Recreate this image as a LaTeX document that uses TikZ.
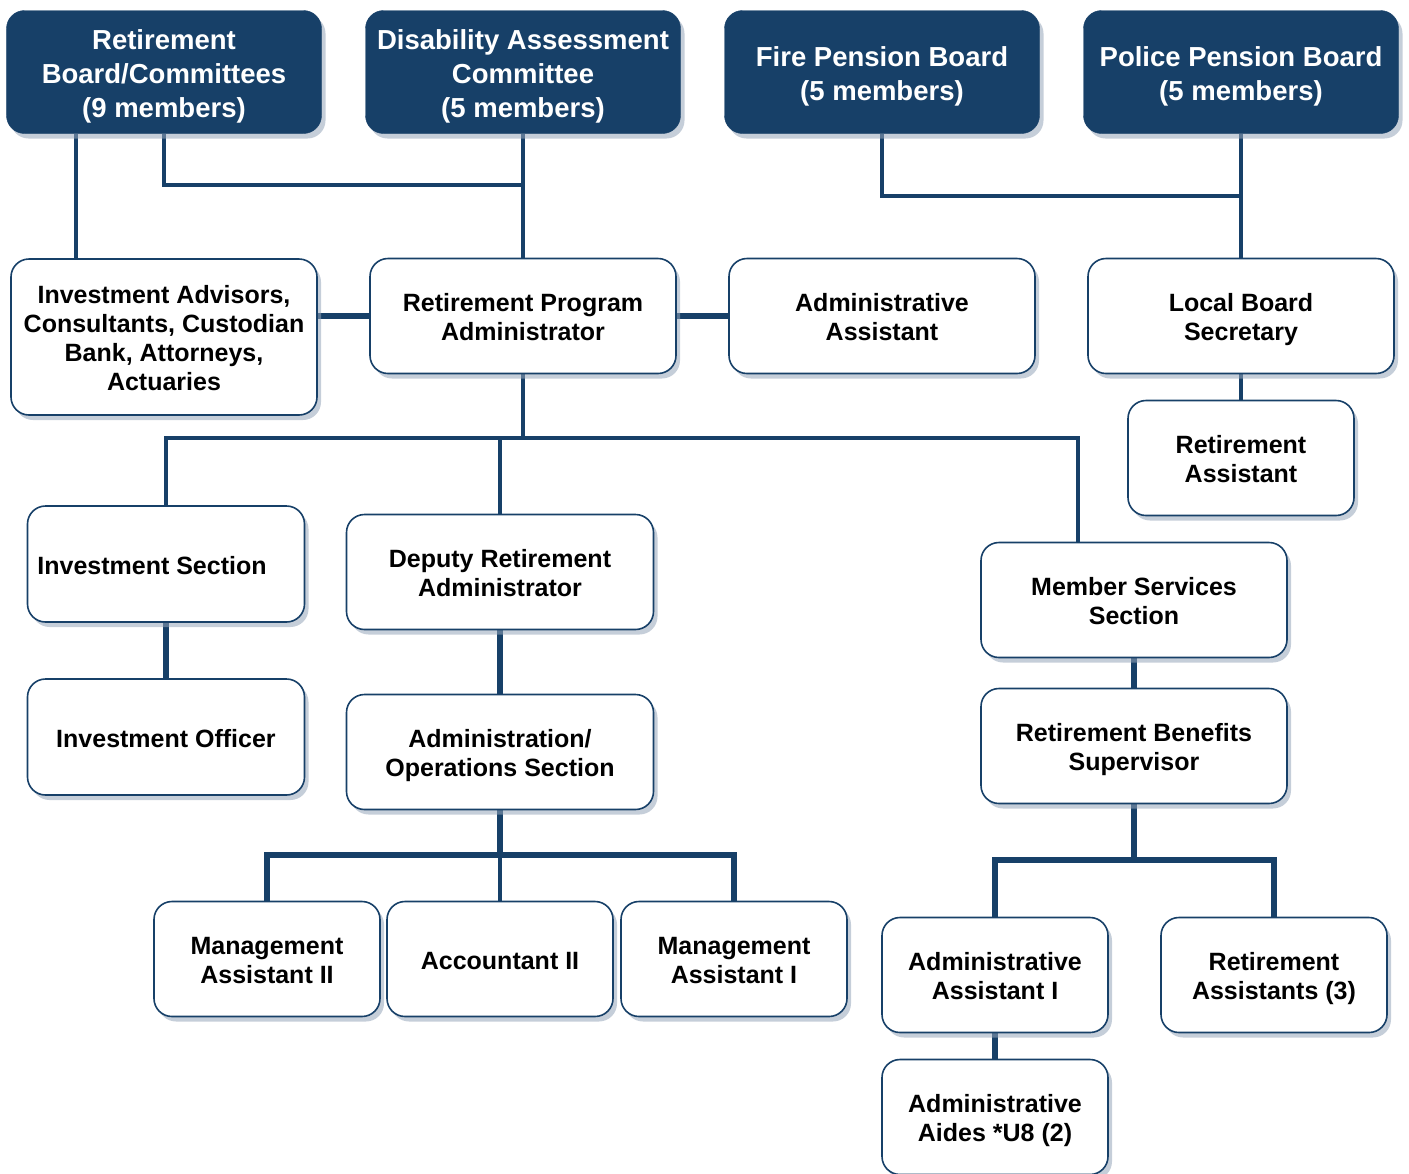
\documentclass[tikz,border=0pt]{standalone}
\usepackage{fontspec}
\setmainfont{Liberation Sans}
\usetikzlibrary{shadows,backgrounds}
\definecolor{navy}{RGB}{23,64,104}
\definecolor{shade}{RGB}{150,165,185}
\tikzset{
  base/.style={rounded corners=18bp, anchor=center, align=center, inner sep=0pt,
    font=\bfseries\fontsize{25bp}{29bp}\selectfont,
    execute at end node={\rule[-5.5bp]{0pt}{0pt}},
    drop shadow={shadow xshift=4bp, shadow yshift=-5bp, fill=shade, opacity=0.55}},
  head/.style={base, fill=navy, draw=navy, text=white, minimum width=315bp, minimum height=123bp,
    font=\bfseries\fontsize{27.5bp}{34bp}\selectfont,
    execute at end node={\rule[-6bp]{0pt}{0pt}}},
  box/.style={base, fill=white, draw=navy, line width=1.6bp, minimum width=306bp, minimum height=115bp},
  sbox/.style={box, minimum width=226bp},
  l1/.style={execute at begin node={\rule{0pt}{26bp}}},
  l2/.style={execute at begin node={\rule{0pt}{55bp}}},
  l4/.style={execute at begin node={\rule{0pt}{113bp}}},
  h2/.style={execute at begin node={\rule{0pt}{63bp}}},
  h3/.style={execute at begin node={\rule{0pt}{97bp}}},
  conn/.style={draw=navy, line width=4bp},
  thick conn/.style={draw=navy, line width=5.5bp},
}
\begin{document}
\begin{tikzpicture}[x=1bp,y=-1bp]
\useasboundingbox (0,0) rectangle (1409,1173);
% top row
\node[head,h3] (rb) at (164,72) {Retirement\\Board/Committees\\(9 members)};
\node[head,h3] (dac) at (523,72) {Disability Assessment\\Committee\\(5 members)};
\node[head,h2] (fpb) at (882,72) {Fire Pension Board\\(5 members)};
\node[head,h2] (ppb) at (1241,72) {Police Pension Board\\(5 members)};
% second row
\node[box,l4, minimum height=156bp] (ia) at (164,337) {Investment Advisors,\\Consultants, Custodian\\Bank, Attorneys,\\Actuaries};
\node[box,l2] (rpa) at (523,316) {Retirement Program\\Administrator};
\node[box,l2] (aa) at (882,316) {Administrative\\Assistant};
\node[box,l2] (lbs) at (1241,316) {Local Board\\Secretary};
\node[sbox,l2] (ra) at (1241,458) {Retirement\\Assistant};
% third row
\node[box,l1, minimum width=277bp, minimum height=116bp] (is) at (166,564) {Investment Section\hspace*{28bp}};
\node[box,l1, minimum width=277bp, minimum height=116bp] (io) at (166,737) {Investment Officer};
\node[box,l2, minimum width=307bp] (dra) at (500,572) {Deputy Retirement\\Administrator};
\node[box,l2, minimum width=307bp] (aos) at (500,752) {Administration/\\Operations Section};
\node[box,l2] (mss) at (1134,600) {Member Services\\Section};
\node[box,l2] (rbs) at (1134,746) {Retirement Benefits\\Supervisor};
% bottom row
\node[sbox,l2] (ma2) at (267,959) {Management\\Assistant II};
\node[sbox,l1] (ac2) at (500,959) {Accountant II};
\node[sbox,l2] (ma1) at (734,959) {Management\\Assistant I};
\node[sbox,l2] (aa1) at (995,975) {Administrative\\Assistant I};
\node[sbox,l2] (ra3) at (1274,975) {Retirement\\Assistants (3)};
\node[sbox,l2] (aides) at (995,1117) {Administrative\\Aides *U8 (2)};
% junctions
\coordinate (j1) at (523,185);
\coordinate (j2) at (1241,196);
\coordinate (j3) at (523,438);
\coordinate (j4) at (1078,438);
\coordinate (j5) at (500,855);
\coordinate (j6) at (1134,860);
\begin{scope}[on background layer]
\draw[conn] ([xshift=-88bp]rb.south) -- ([xshift=-88bp]ia.north);
\draw[conn] (rb.south) |- (j1);
\draw[conn] (dac.south) -- (rpa.north);
\draw[conn] (fpb.south) |- (j2);
\draw[conn] (ppb.south) -- (lbs.north);
\draw[conn] (lbs.south) -- (ra.north);
\draw[thick conn] (ia.east |- rpa.west) -- (rpa.west);
\draw[thick conn] (rpa.east) -- (aa.west);
\draw[conn] (rpa.south) -- (j3);
\draw[conn] (is.north) |- (j4) -- (j4 |- mss.north);
\draw[conn] (dra.north) -- (dra.north |- j4);
\draw[thick conn] (is.south) -- (io.north);
\draw[thick conn] (dra.south) -- (aos.north);
\draw[thick conn] (aos.south) -- (j5);
\draw[thick conn] (ma2.north) |- (j5) -| (ma1.north);
\draw[conn] (ac2.north) -- (j5);
\draw[thick conn] (mss.south) -- (rbs.north);
\draw[thick conn] (rbs.south) -- (j6);
\draw[thick conn] (aa1.north) |- (j6) -| (ra3.north);
\draw[thick conn] (aa1.south) -- (aides.north);
\end{scope}
\end{tikzpicture}
\end{document}
